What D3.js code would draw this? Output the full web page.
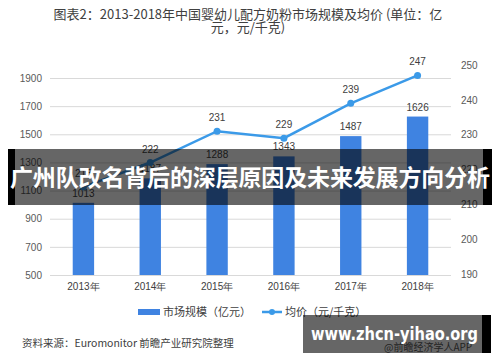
<!DOCTYPE html>
<html><head><meta charset="utf-8">
<script src="https://cdn.jsdelivr.net/npm/d3@7"></script>
<style>
html,body{margin:0;padding:0;background:#fff;}
svg{display:block;font-family:"Noto Sans CJK SC","Noto Sans",sans-serif;}
</style></head>
<body>
<script>
const years = ["2013年","2014年","2015年","2016年","2017年","2018年"];
const marketSize = [1013,1187,1288,1343,1487,1626];
const avgPrice = [215,222,231,229,239,247];
const leftTicks = [500,700,900,1100,1300,1500,1700,1900];
const rightTicks = [190,200,210,220,230,240,250];
const titleLines = ["图表2：2013-2018年中国婴幼儿配方奶粉市场规模及均价 (单位：亿","元，元/千克)"];
const legendLabels = ["市场规模（亿元）","均价（元/千克）"];
const sourceText = "资料来源：Euromonitor 前瞻产业研究院整理";
const bannerText = "广州队改名背后的深层原因及未来发展方向分析";
const siteText = "www.zhcn-yihao.org";
const creditText = "@前瞻经济学人APP";

const W=500,H=362;
const svg=d3.select("body").append("svg").attr("width",W).attr("height",H);

const x=d3.scaleBand().domain(years).range([50,451]).paddingInner(0.68).paddingOuter(0.34);
const yL=d3.scaleLinear().domain([500,1900]).range([275,78]);
const yR=d3.scaleLinear().domain([190,250]).range([274,65]);
const cx=d=>x(d)+x.bandwidth()/2;
const numFont="Liberation Sans,Arial,sans-serif";

// title
svg.append("g").selectAll("text").data(titleLines).join("text")
 .attr("x",248).attr("y",(d,i)=>19+i*13).attr("text-anchor","middle")
 .attr("font-size",13).attr("fill","#404040").text(d=>d);

// grid
svg.append("g").selectAll("line").data(leftTicks).join("line")
 .attr("x1",50).attr("x2",451).attr("y1",d=>yL(d)+0.5).attr("y2",d=>yL(d)+0.5)
 .attr("stroke","#d9d9d9").attr("stroke-width",1);

// left axis
const axL=svg.append("g").attr("transform","translate(50,0)")
 .call(d3.axisLeft(yL).tickValues(leftTicks).tickFormat(d3.format("d")).tickSize(0).tickPadding(8));
axL.select(".domain").remove();
axL.selectAll("text").attr("font-size",10).attr("fill","#595959").attr("font-family",numFont);

// right axis
const axR=svg.append("g").attr("transform","translate(451,0)")
 .call(d3.axisRight(yR).tickValues(rightTicks).tickFormat(d3.format("d")).tickSize(0).tickPadding(10));
axR.select(".domain").remove();
axR.selectAll("text").attr("font-size",10).attr("fill","#595959").attr("font-family",numFont);

// bottom axis
const axB=svg.append("g").attr("transform","translate(0,275)")
 .call(d3.axisBottom(x).tickSize(0).tickPadding(8));
axB.select(".domain").remove();
axB.selectAll("text").attr("font-size",10).attr("fill","#404040");

// bars
svg.append("g").selectAll("rect").data(marketSize).join("rect")
 .attr("x",(d,i)=>x(years[i])).attr("width",x.bandwidth())
 .attr("y",d=>yL(d)).attr("height",d=>yL(500)-yL(d)).attr("fill","#3f83e1");
svg.append("g").selectAll("text").data(marketSize).join("text")
 .attr("x",(d,i)=>cx(years[i])).attr("y",d=>yL(d)-6).attr("text-anchor","middle")
 .attr("font-size",10).attr("fill","#404040").attr("font-family",numFont).text(d=>d);

// line
const line=d3.line().x((d,i)=>cx(years[i])).y(d=>yR(d));
svg.append("path").datum(avgPrice).attr("d",line).attr("fill","none")
 .attr("stroke","#3b9ae8").attr("stroke-width",2.5);
svg.append("g").selectAll("circle").data(avgPrice).join("circle")
 .attr("cx",(d,i)=>cx(years[i])).attr("cy",d=>yR(d)).attr("r",3.5).attr("fill","#3b9ae8");
svg.append("g").selectAll("text").data(avgPrice).join("text")
 .attr("x",(d,i)=>cx(years[i])).attr("y",d=>yR(d)-10).attr("text-anchor","middle")
 .attr("font-size",10).attr("fill","#404040").attr("font-family",numFont).text(d=>d);

// legend
const lg=svg.append("g");
lg.append("rect").attr("x",138).attr("y",309).attr("width",22).attr("height",6).attr("fill","#3f83e1");
lg.append("text").attr("x",163).attr("y",316).attr("font-size",11).attr("fill","#404040").text(legendLabels[0]);
lg.append("line").attr("x1",262).attr("x2",282).attr("y1",312).attr("y2",312).attr("stroke","#3b9ae8").attr("stroke-width",2.5);
lg.append("circle").attr("cx",272).attr("cy",312).attr("r",3).attr("fill","#3b9ae8");
lg.append("text").attr("x",285).attr("y",316).attr("font-size",11).attr("fill","#404040").text(legendLabels[1]);

// source
svg.append("text").attr("x",22).attr("y",347).attr("font-size",10.5).attr("fill","#404040").text(sourceText);
svg.append("text").attr("x",384).attr("y",351).attr("font-size",10).attr("fill","#595959").text(creditText);

// overlay banner
svg.append("rect").attr("x",8).attr("y",149).attr("width",484).attr("height",56).attr("fill","rgba(0,0,0,0.6)");
svg.append("rect").attr("x",8).attr("y",149).attr("width",7).attr("height",56).attr("fill","#000");
svg.append("rect").attr("x",483).attr("y",149).attr("width",9).attr("height",56).attr("fill","#000");
svg.append("text").attr("x",250).attr("y",186).attr("text-anchor","middle")
 .attr("font-size",23).attr("font-weight","bold").attr("fill","#fff").attr("textLength",480).text(bannerText);

// bottom banner
svg.append("rect").attr("x",303).attr("y",315).attr("width",188).attr("height",38).attr("fill","rgba(0,0,0,0.6)");
svg.append("rect").attr("x",482).attr("y",315).attr("width",9).attr("height",38).attr("fill","#000");
svg.append("text").attr("x",311).attr("y",340).attr("font-size",17).attr("font-weight","bold")
 .attr("fill","#fff").attr("font-family","DejaVu Sans,sans-serif")
 .attr("textLength",167).attr("lengthAdjust","spacingAndGlyphs").text(siteText);
</script>
</body></html>
